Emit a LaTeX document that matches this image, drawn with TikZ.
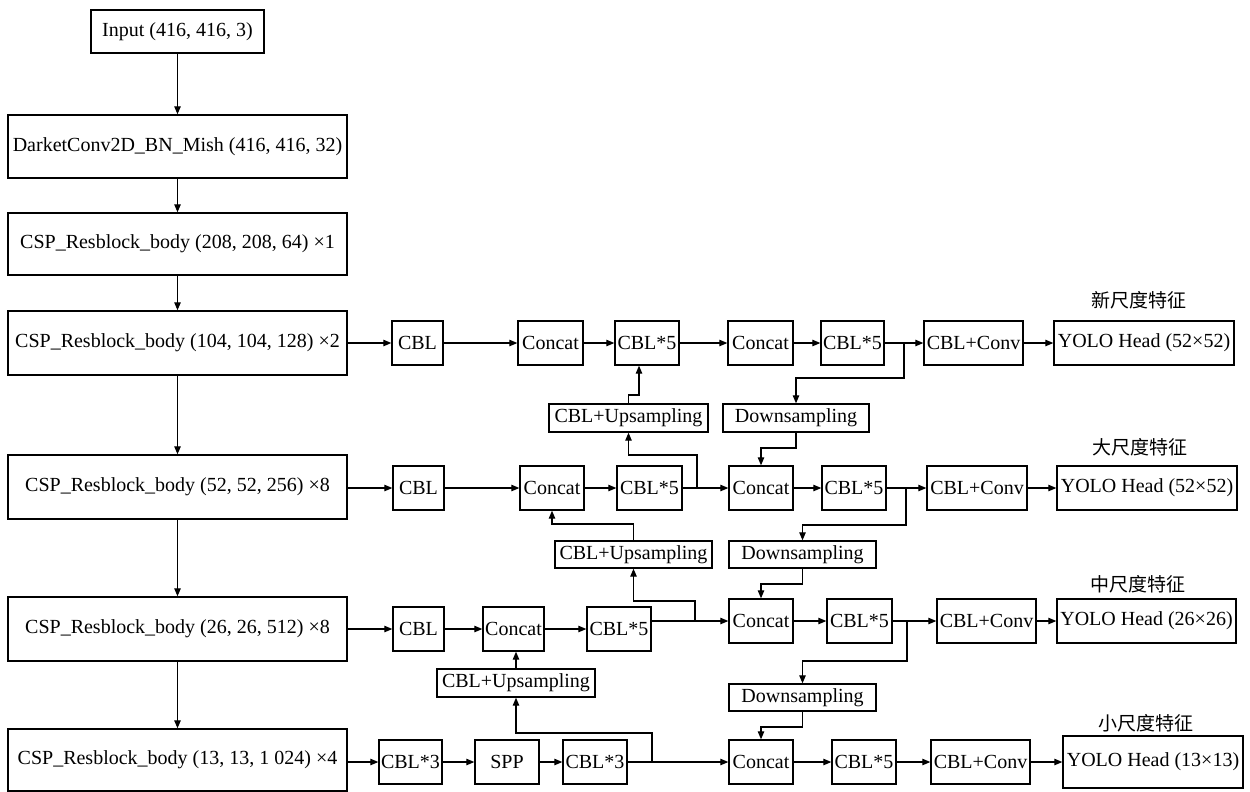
\documentclass[tikz,border=0pt]{standalone}
\usepackage{fontspec}
\newfontfamily\tms{Liberation Serif}
\newfontfamily\cjk{Noto Sans CJK SC}
\usetikzlibrary{arrows.meta}
\begin{document}
\begin{tikzpicture}[x=1pt,y=-1pt]
\tikzstyle{every node}+=[inner sep=0pt, font=\tms\fontsize{20}{24}\selectfont]
\tikzstyle{blk}=[draw, line width=1.4pt, minimum height=44pt]
\tikzstyle{smallblk}=[draw, line width=1.4pt, minimum height=28pt]
\tikzstyle{arr}=[line width=1.1pt, -{Triangle[length=8pt,width=6.5pt]}]
\tikzstyle{scalelabel}=[font=\cjk\fontsize{19}{22}\selectfont]
\useasboundingbox (0,0) rectangle (1250,792);
% backbone
\node [blk, minimum width=173pt, minimum height=43pt] (input) at (177.5,31.5) {Input (416, 416, 3)};
\node [blk, minimum width=339pt, minimum height=63pt] (dark) at (177.5,146.5) {DarketConv2D\_BN\_Mish (416, 416, 32)};
\node [blk, minimum width=339pt, minimum height=62pt] (csp1) at (177.5,244) {CSP\_Resblock\_body (208, 208, 64) ×1};
\node [blk, minimum width=339pt, minimum height=64pt] (csp2) at (177.5,343) {CSP\_Resblock\_body (104, 104, 128) ×2};
\node [blk, minimum width=339pt, minimum height=64pt] (csp3) at (177.5,487) {CSP\_Resblock\_body (52, 52, 256) ×8};
\node [blk, minimum width=339pt, minimum height=64pt] (csp4) at (177.5,629) {CSP\_Resblock\_body (26, 26, 512) ×8};
\node [blk, minimum width=339pt, minimum height=62pt] (csp5) at (177.5,760) {CSP\_Resblock\_body (13, 13, 1~024) ×4};
\draw [arr] (input) -- (dark);
\draw [arr] (dark) -- (csp1);
\draw [arr] (csp1) -- (csp2);
\draw [arr] (csp2) -- (csp3);
\draw [arr] (csp3) -- (csp4);
\draw [arr] (csp4) -- (csp5);
% row 1
\node [blk, minimum width=51pt] (cblA) at (417.5,343) {CBL};
\node [blk, minimum width=65pt] (catA1) at (550.5,343) {Concat};
\node [blk, minimum width=64pt] (cbl5A1) at (647,343) {CBL*5};
\node [blk, minimum width=65pt] (catA2) at (760.5,343) {Concat};
\node [blk, minimum width=63pt] (cbl5A2) at (852.5,343) {CBL*5};
\node [blk, minimum width=99pt] (convA) at (973.5,343) {CBL+Conv};
\node [blk, minimum width=180pt] (headA) at (1144,343) {YOLO Head (52×52)};
\node [scalelabel] (labA) at (1139,300) {新尺度特征};
\node [smallblk, minimum width=159pt] (upA) at (628.5,418) {CBL+Upsampling};
\node [smallblk, minimum width=146pt] (downA) at (796,418) {Downsampling};
\draw [arr] (csp2.east |- cblA) -- (cblA);
\draw [arr] (cblA) -- (catA1);
\draw [arr] (catA1) -- (cbl5A1);
\draw [arr] (cbl5A1) -- (catA2);
\draw [arr] (catA2) -- (cbl5A2);
\draw [arr] (cbl5A2) -- (convA);
\draw [arr] (convA) -- (headA);
% row 2
\node [blk, minimum width=51pt] (cblB) at (418.5,488) {CBL};
\node [blk, minimum width=64pt] (catB1) at (552,488) {Concat};
\node [blk, minimum width=65pt] (cbl5B1) at (649.5,488) {CBL*5};
\node [blk, minimum width=64pt] (catB2) at (761,488) {Concat};
\node [blk, minimum width=64pt] (cbl5B2) at (854,488) {CBL*5};
\node [blk, minimum width=100pt] (convB) at (977,488) {CBL+Conv};
\node [blk, minimum width=180pt] (headB) at (1147,488) {YOLO Head (52×52)};
\node [scalelabel] (labB) at (1140,447) {大尺度特征};
\node [smallblk, minimum width=157pt, minimum height=27pt] (upB) at (633.5,554.5) {CBL+Upsampling};
\node [smallblk, minimum width=147pt, minimum height=27pt] (downB) at (802.5,554.5) {Downsampling};
\draw [arr] (csp3.east |- cblB) -- (cblB);
\draw [arr] (cblB) -- (catB1);
\draw [arr] (catB1) -- (cbl5B1);
\draw [arr] (cbl5B1) -- (catB2);
\draw [arr] (catB2) -- (cbl5B2);
\draw [arr] (cbl5B2) -- (convB);
\draw [arr] (convB) -- (headB);
% row 3
\node [blk, minimum width=51pt] (cblC) at (418.5,629) {CBL};
\node [blk, minimum width=61pt] (catC1) at (513.5,629) {Concat};
\node [blk, minimum width=64pt] (cbl5C1) at (619,629) {CBL*5};
\node [blk, minimum width=64pt] (catC2) at (761,621) {Concat};
\node [blk, minimum width=65pt] (cbl5C2) at (859.5,621) {CBL*5};
\node [blk, minimum width=99pt] (convC) at (986.5,621) {CBL+Conv};
\node [blk, minimum width=179pt] (headC) at (1146.5,621) {YOLO Head (26×26)};
\node [scalelabel] (labC) at (1138,584) {中尺度特征};
\node [smallblk, minimum width=158pt] (upC) at (516,683) {CBL+Upsampling};
\node [smallblk, minimum width=147pt, minimum height=27pt] (downC) at (802.5,697.5) {Downsampling};
\draw [arr] (csp4.east |- cblC) -- (cblC);
\draw [arr] (cblC) -- (catC1);
\draw [arr] (catC1) -- (cbl5C1);
\draw [arr] (cbl5C1.east |- catC2) -- (catC2);
\draw [arr] (catC2) -- (cbl5C2);
\draw [arr] (cbl5C2) -- (convC);
\draw [arr] (convC) -- (headC);
% row 4
\node [blk, minimum width=63pt] (cbl3D1) at (410.5,762) {CBL*3};
\node [blk, minimum width=64pt] (spp) at (507,762) {SPP};
\node [blk, minimum width=64pt] (cbl3D2) at (595,762) {CBL*3};
\node [blk, minimum width=64pt] (catD) at (761,762) {Concat};
\node [blk, minimum width=64pt] (cbl5D) at (864,762) {CBL*5};
\node [blk, minimum width=99pt] (convD) at (980.5,762) {CBL+Conv};
\node [blk, minimum width=180pt, minimum height=52pt] (headD) at (1153,762) {YOLO Head (13×13)};
\node [scalelabel] (labD) at (1146,723) {小尺度特征};
\draw [arr] (csp5.east |- cbl3D1) -- (cbl3D1);
\draw [arr] (cbl3D1) -- (spp);
\draw [arr] (spp) -- (cbl3D2);
\draw [arr] (cbl3D2) -- (catD);
\draw [arr] (catD) -- (cbl5D);
\draw [arr] (cbl5D) -- (convD);
\draw [arr] (convD) -- (headD);
% up and down paths
\coordinate (jB1) at (697,488);
\coordinate (jA2) at (904,343);
\coordinate (jC1) at (695,621);
\coordinate (jB2) at (906,488);
\coordinate (jD2) at (652,762);
\coordinate (jC2) at (907,621);
\draw [arr] (upA.north) -- (628.5,395) -| (cbl5A1.south -| 639,0);
\draw [arr] (jB1) -- (697,455) -| (upA.south);
\draw [arr] (jA2) -- (904,378) -| (downA.north);
\draw [arr] (downA.south) -- (796,448) -| (catB2.north);
\draw [arr] (upB.north) -- (633.5,524) -| (catB1.south);
\draw [arr] (jC1) -- (695,601) -| (upB.south);
\draw [arr] (jB2) -- (906,525) -| (downB.north);
\draw [arr] (downB.south) -- (802.5,584) -| (catC2.north);
\draw [arr] (upC.north) -- (upC.north |- catC1.south);
\draw [arr] (jD2) -- (652,733) -| (upC.south);
\draw [arr] (jC2) -- (907,661) -| (downC.north);
\draw [arr] (downC.south) -- (802.5,727) -| (catD.north);
\end{tikzpicture}
\end{document}
